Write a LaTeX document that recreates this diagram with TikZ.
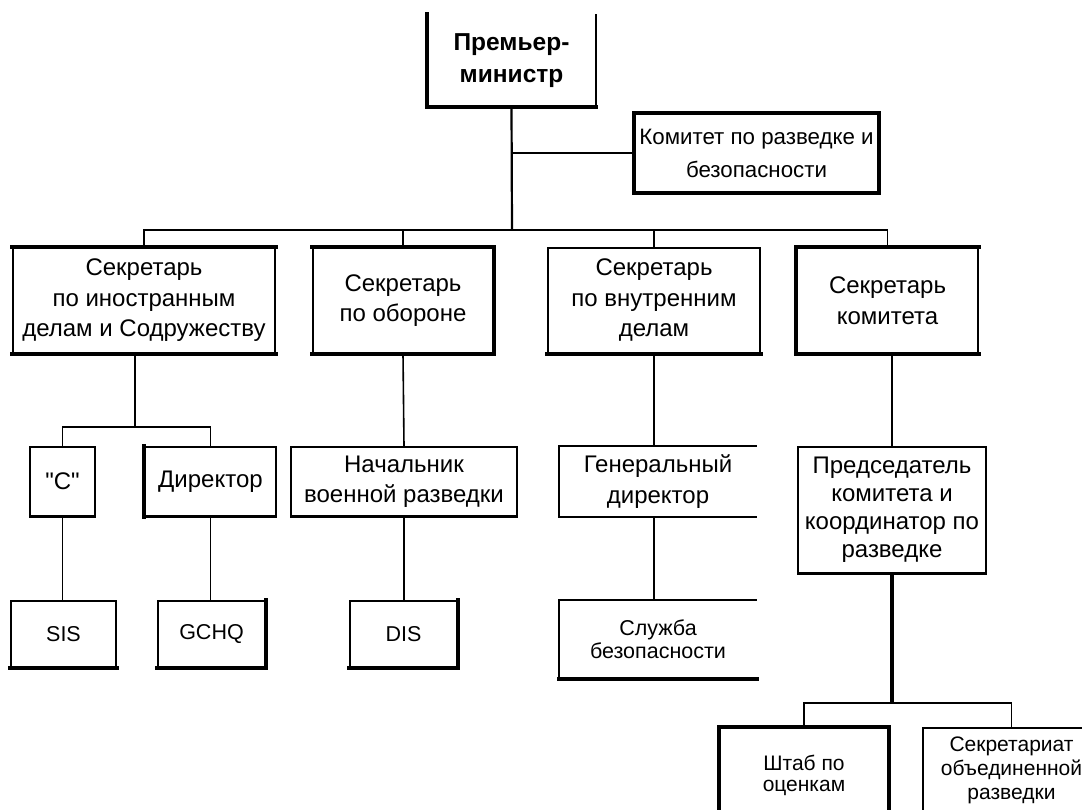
\documentclass[tikz,border=0pt]{standalone}
\usepackage{fontspec}
\setmainfont{Liberation Sans}
\begin{document}
\begin{tikzpicture}[x=1pt,y=-1pt,
  box/.style={draw,line width=1.8pt,inner sep=0pt,align=center,font=\fontsize{24}{30.5}\selectfont},
  openbox/.style={box,draw=none},
  small/.style={font=\fontsize{21.5}{23}\selectfont},
  thk/.style={line width=3.6pt,line cap=rect},
  conn/.style={line width=1.6pt},
  wconn/.style={line width=4pt}]
\useasboundingbox (0,0) rectangle (1082,810);
\fill[white] (0,0) rectangle (1082,810);
\clip (0,0) rectangle (1082,810);

% level 0 / 1
\node[openbox,minimum width=167pt,minimum height=91pt,font=\fontsize{24.5}{32}\bfseries\selectfont] (pm) at (511.5,60.5) {Премьер-\\министр};
\draw[line width=1.8pt] (pm.north west) -- (pm.south west) -- (pm.south east) -- (pm.north east);
\node[box,minimum width=243pt,minimum height=78pt,font=\fontsize{22.3}{33}\selectfont] (kom) at (756.5,153) {Комитет по разведке и\\безопасности};

% level 2
\node[box,minimum width=262pt,minimum height=105pt] (b1) at (144,300.5) {Секретарь\\по иностранным\\делам и Содружеству};
\node[box,minimum width=180pt,minimum height=105pt] (b2) at (403,300.5) {Секретарь\\по обороне};
\node[box,minimum width=212pt,minimum height=105pt,line width=2.6pt] (b3) at (654,300.5) {Секретарь\\по внутренним\\делам};
\node[box,minimum width=181pt,minimum height=105pt] (b4) at (887.5,300.5) {Секретарь\\комитета};

% level 3
\node[box,minimum width=65pt,minimum height=69pt] (c) at (62.5,481.5) {\textquotedbl С\textquotedbl};
\node[box,minimum width=131pt,minimum height=69pt] (dir) at (210.5,481.5) {Директор};
\node[box,minimum width=226pt,minimum height=69pt] (nach) at (404,481.5) {Начальник\\военной разведки};
\node[openbox,minimum width=196pt,minimum height=69pt] (gen) at (658,481.5) {Генеральный\\директор};
\draw[line width=1.8pt] (gen.north east) -- (gen.north west) -- (gen.south west) -- (gen.south east);
\node[box,minimum width=188pt,minimum height=126pt,font=\fontsize{24}{28}\selectfont] (pred) at (892,510) {Председатель\\комитета и\\координатор по\\разведке};

% level 4
\node[box,small,minimum width=105pt,minimum height=66pt] (sis) at (63.5,634) {SIS};
\node[box,small,minimum width=107pt,minimum height=66pt] (gchq) at (211.5,634) {GCHQ};
\node[box,small,minimum width=107pt,minimum height=66pt] (dis) at (403.5,634) {DIS};
\node[openbox,small,minimum width=196pt,minimum height=77pt] (slu) at (658,639.5) {Служба\\безопасности};
\draw[line width=1.8pt] (slu.north east) -- (slu.north west) -- (slu.south west) -- (slu.south east);

% level 5
\node[box,small,minimum width=168pt,minimum height=112pt,font=\fontsize{21}{21}\selectfont] (shtab) at (804,784) {Штаб по\\оценкам\\~};
\node[box,small,minimum width=177pt,minimum height=112pt,font=\fontsize{21}{24}\selectfont] (sekr) at (1011.5,784) {Секретариат\\объединенной\\разведки\\[8pt]~};

% thick edges
\draw[thk] (pm.north west) -- (pm.south west) -- (pm.south east);
\draw[thk] (kom.south west) rectangle (kom.north east);
\draw[thk] (b1.north west) -- (b1.north east);
\draw[thk] (b1.south west) -- (b1.south east);
\draw[thk] (b2.north west) -- (b2.north east) -- (b2.south east) -- (b2.south west);
\draw[thk] (b4.north east) -- (b4.north west) -- (b4.south west) -- (b4.south east);
\draw[thk] (b3.south west) -- (b3.south east);
\draw[thk] (dir.north west) -- (dir.south west);
\foreach \n in {c,dir,nach,gen,pred} \draw[line width=2.6pt] (\n.south west) -- (\n.south east);
\foreach \n in {sis,gchq,dis,slu} \draw[thk] (\n.south west) -- (\n.south east);
\draw[thk] (gchq.north east) -- (gchq.south east);
\draw[thk] (dis.north east) -- (dis.south east);
\draw[thk] (shtab.south west) -- (shtab.north west) -- (shtab.north east) -- (shtab.south east);

% connectors
\coordinate (j1) at (512,230);
\draw[line width=2.2pt] (pm.south) -- (j1);
\draw[line width=2.2pt] (kom.west) -- (kom.west -| pm.south);
\draw[conn] (b1.north) |- (j1);
\draw[conn] (b2.north) |- (j1);
\draw[conn] (j1) -| (b3.north);
\draw[conn] (j1) -| (b4.north);

\coordinate (j2) at (135,427);
\draw[conn] (b1.south -| j2) -- (j2);
\draw[conn] (c.north) |- (j2) -| (dir.north);
\draw[conn] (b2.south) -- (nach.north);
\draw[conn] (b3.south) -- (b3.south |- gen.north);
\draw[conn] (b4.south -| pred.north) -- (pred.north);

\draw[conn] (c.south) -- (sis.north -| c.south);
\draw[conn] (dir.south) -- (gchq.north -| dir.south);
\draw[conn] (nach.south) -- (dis.north -| nach.south);
\draw[conn] (gen.south -| b3.south) -- (slu.north -| b3.south);

\coordinate (j3) at (892,703);
\draw[wconn] (pred.south) -- (j3);
\draw[conn] (shtab.north) |- (j3) -| (sekr.north);
\end{tikzpicture}
\end{document}
